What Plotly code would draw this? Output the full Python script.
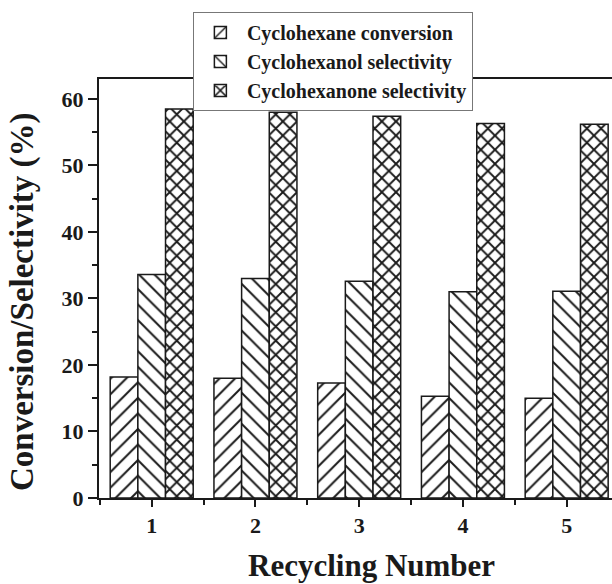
import plotly.graph_objects as go

# Recycling runs and measured performance (%)
cycles = [1, 2, 3, 4, 5]
conversion = [18.2, 18.0, 17.3, 15.3, 15.0]
cyclohexanol_sel = [33.6, 33.0, 32.6, 31.0, 31.1]
cyclohexanone_sel = [58.5, 58.0, 57.4, 56.3, 56.2]

series_names = ["Cyclohexane conversion", "Cyclohexanol selectivity", "Cyclohexanone selectivity"]
series_values = [conversion, cyclohexanol_sel, cyclohexanone_sel]
series_patterns = [("/", 11, 0.18), ("\\", 11, 0.18), ("x", 10, 0.34)]

SERIF = "Liberation Serif"
INK = "#1a1a1a"

fig = go.Figure()
for name, vals, (shape, size, solid) in zip(series_names, series_values, series_patterns):
    fig.add_trace(go.Bar(
        x=cycles, y=vals, name=name,
        marker=dict(
            color="white",
            line=dict(color=INK, width=1.5),
            pattern=dict(shape=shape, size=size, solidity=solid,
                         fgcolor=INK, bgcolor="white", fillmode="replace"),
        ),
    ))

fig.update_layout(
    width=612, height=584,
    margin=dict(l=99, r=0, t=79, b=86),
    paper_bgcolor="white", plot_bgcolor="white",
    barmode="group", bargap=0.2, bargroupgap=0.0,
    font=dict(family=SERIF, color=INK),
    showlegend=True,
    legend=dict(
        x=0.183, y=1.16, xanchor="left", yanchor="top",
        bgcolor="white", bordercolor="#777", borderwidth=1,
        font=dict(family=SERIF, size=20, weight=700, color=INK),
        itemwidth=43, traceorder="normal",
    ),
    xaxis=dict(
        range=[0.492, 5.437],
        tickmode="linear", tick0=1, dtick=1,
        ticks="outside", ticklen=7, tickwidth=2, tickcolor=INK,
        minor=dict(ticks="outside", ticklen=5, tickwidth=2, tickcolor=INK, tick0=0.5, dtick=1),
        showline=True, linewidth=2, linecolor=INK, mirror=True,
        showgrid=False, zeroline=False,
        tickfont=dict(family=SERIF, size=22, weight=700, color=INK),
    ),
    yaxis=dict(
        range=[0, 63.0],
        tickmode="linear", tick0=0, dtick=10,
        ticks="outside", ticklen=9, tickwidth=2, tickcolor=INK,
        minor=dict(ticks="outside", ticklen=5, tickwidth=2, tickcolor=INK, dtick=5),
        showline=True, linewidth=2, linecolor=INK, mirror=False,
        showgrid=False, zeroline=False,
        tickfont=dict(family=SERIF, size=22, weight=700, color=INK),
    ),
    annotations=[
        dict(text="Recycling Number", xref="paper", yref="paper",
             x=0.532, y=-0.161, xanchor="center", yanchor="middle", showarrow=False,
             font=dict(family=SERIF, size=31, weight=700, color=INK)),
        dict(text="Conversion/Selectivity (%)", xref="paper", yref="paper",
             x=-0.148, y=0.468, xanchor="center", yanchor="middle", textangle=-90,
             showarrow=False,
             font=dict(family=SERIF, size=33, weight=700, color=INK)),
    ],
)

fig.write_html("out.html")
